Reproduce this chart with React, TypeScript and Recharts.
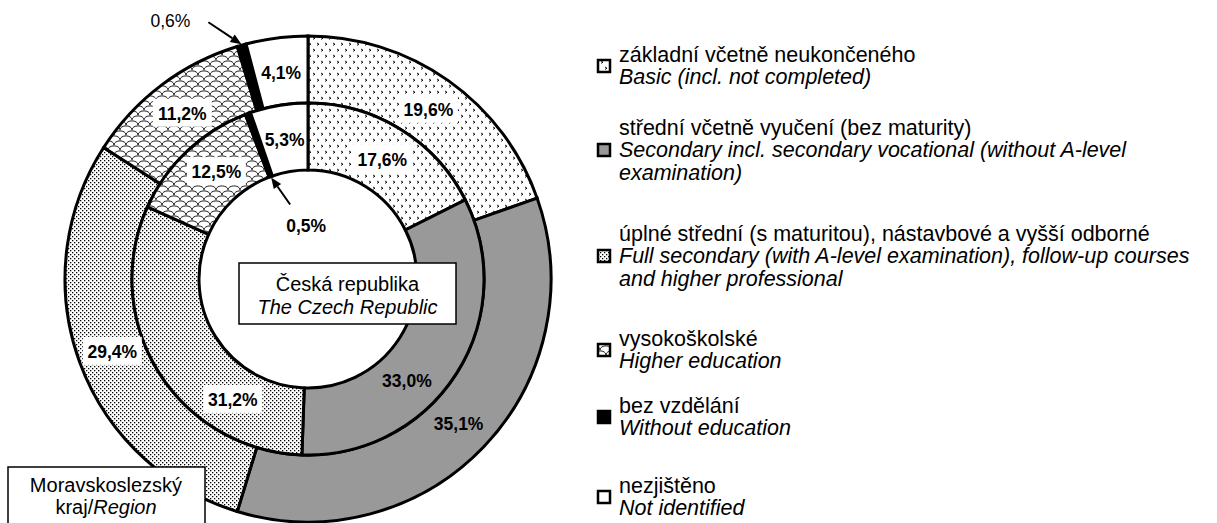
import { PieChart, Pie, Cell } from "recharts";

// categories (Czech + English)
const CATEGORIES_CZ = [
  "základní včetně neukončeného",
  "střední včetně vyučení (bez maturity)",
  "úplné střední (s maturitou), nástavbové a vyšší odborné",
  "vysokoškolské",
  "bez vzdělání",
  "nezjištěno",
];
const CATEGORIES_EN = [
  ["Basic (incl. not completed)"],
  ["Secondary incl. secondary vocational (without A-level", "examination)"],
  ["Full secondary (with A-level examination), follow-up courses", "and higher professional"],
  ["Higher education"],
  ["Without education"],
  ["Not identified"],
];

// outer ring = Moravskoslezský kraj, inner ring = Česká republika
const REGION_VALUES = [19.6, 35.1, 29.4, 11.2, 0.6, 4.1];
const CZ_VALUES = [17.6, 33.0, 31.2, 12.5, 0.5, 5.3];

const FILLS = ["url(#p-basic)", "#999999", "url(#p-dots)", "url(#p-scales)", "#000000", "#ffffff"];
const LABEL_BOX = [true, false, true, true, false, false];
// clockwise angle nudges (deg) for a few inner labels
const INNER_NUDGE = [0, 13, -26, 3, 0, 0];
// legend item centres
const LEGEND_Y = [66, 150, 256, 350, 417, 497];

const FONT = "Arial, 'Liberation Sans', sans-serif";
const RAD = Math.PI / 180;
const CX = 308;
const CY = 279;

const regionData = CATEGORIES_CZ.map((name, i) => ({ name, value: REGION_VALUES[i] }));
const czData = CATEGORIES_CZ.map((name, i) => ({ name, value: CZ_VALUES[i] }));

const fmt = (v: number) => v.toFixed(1).replace(".", ",") + "%";

function polar(cx: number, cy: number, r: number, angle: number) {
  return [cx + r * Math.cos(-angle * RAD), cy + r * Math.sin(-angle * RAD)];
}

function Arrow({ x1, y1, x2, y2 }: { x1: number; y1: number; x2: number; y2: number }) {
  const dx = x2 - x1;
  const dy = y2 - y1;
  const len = Math.sqrt(dx * dx + dy * dy);
  const ux = dx / len;
  const uy = dy / len;
  const hl = 11;
  const hw = 4.5;
  const bx = x2 - ux * hl;
  const by = y2 - uy * hl;
  const pts = `${x2},${y2} ${bx - uy * hw},${by + ux * hw} ${bx + uy * hw},${by - ux * hw}`;
  return (
    <g>
      <line x1={x1} y1={y1} x2={bx} y2={by} stroke="#000" strokeWidth={2} />
      <polygon points={pts} fill="#000" />
    </g>
  );
}

function makeLabel(ring: "outer" | "inner") {
  return (props: any) => {
    const { cx, cy, midAngle, innerRadius, outerRadius, index, value } = props;
    const text = fmt(value);
    if (index === 4) {
      if (ring === "outer") {
        const [tx, ty] = polar(cx, cy, outerRadius + 1, midAngle);
        const sx = tx - 33;
        const sy = ty - 22;
        return (
          <g>
            <Arrow x1={sx} y1={sy} x2={tx} y2={ty} />
            <text x={sx - 38} y={sy - 1} textAnchor="middle" dominantBaseline="central"
              fontFamily={FONT} fontSize={17.5} fill="#000">{text}</text>
          </g>
        );
      }
      const [tx, ty] = polar(cx, cy, innerRadius - 1, midAngle);
      const sx = tx + 19;
      const sy = ty + 27;
      return (
        <g>
          <Arrow x1={sx} y1={sy} x2={tx} y2={ty} />
          <text x={sx + 16} y={sy + 22} textAnchor="middle" dominantBaseline="central"
            fontFamily={FONT} fontSize={17.5} fontWeight="bold" fill="#000">{text}</text>
        </g>
      );
    }
    const nudge = ring === "inner" ? INNER_NUDGE[index] : 0;
    const r = (innerRadius + outerRadius) / 2 - 1;
    const [x, y] = polar(cx, cy, r, midAngle - nudge);
    const w = text.length * 9.8 + 10;
    return (
      <g>
        {LABEL_BOX[index] && <rect x={x - w / 2} y={y - 14} width={w} height={28} fill="#fff" />}
        <text x={x} y={y + 1} textAnchor="middle" dominantBaseline="central"
          fontFamily={FONT} fontSize={17.5} fontWeight="bold" fill="#000">{text}</text>
      </g>
    );
  };
}

function Patterns() {
  return (
    <svg width={0} height={0} style={{ position: "absolute" }}>
      <defs>
        <pattern id="p-basic" width={8} height={12} patternUnits="userSpaceOnUse">
          <rect width={8} height={12} fill="#fff" />
          <path d="M1 1 L3 2.2 L1 3.4 M5 7 L7 8.2 L5 9.4" stroke="#000" strokeWidth={0.9} fill="none" />
        </pattern>
        <pattern id="p-dots" width={4} height={4} patternUnits="userSpaceOnUse">
          <rect width={4} height={4} fill="#fff" />
          <rect x={0} y={0} width={1.3} height={1.3} fill="#000" />
          <rect x={2} y={2} width={1.3} height={1.3} fill="#000" />
        </pattern>
        <pattern id="p-scales" width={12} height={10} patternUnits="userSpaceOnUse">
          <rect width={12} height={10} fill="#fff" />
          <path d="M0 10 C0 4.5 12 4.5 12 10 M-6 5 C-6 -0.5 6 -0.5 6 5 M6 5 C6 -0.5 18 -0.5 18 5"
            stroke="#000" strokeWidth={0.9} fill="none" />
        </pattern>
      </defs>
    </svg>
  );
}

function LegendSvg() {
  const LH = 22.5;
  const TX = 619;
  return (
    <svg width={1217} height={523} style={{ position: "absolute", left: 0, top: 0, pointerEvents: "none" }}>
      {CATEGORIES_CZ.map((cz, i) => {
        const lines = [cz, ...CATEGORIES_EN[i]];
        const c = LEGEND_Y[i];
        const y0 = c - ((lines.length - 1) * LH) / 2;
        return (
          <g key={i}>
            <rect x={598} y={c - 6} width={12} height={12} fill={FILLS[i]} stroke="#000" strokeWidth={2.5} />
            <text x={TX} y={y0} dominantBaseline="central" fontFamily={FONT} fontSize={21.5} fill="#000">
              {lines[0]}
            </text>
            {lines.slice(1).map((t, j) => (
              <text key={j} x={TX} y={y0 + (j + 1) * LH} dominantBaseline="central"
                fontFamily={FONT} fontSize={21.5} fontStyle="italic" fill="#000">
                {t}
              </text>
            ))}
          </g>
        );
      })}
      {/* centre box */}
      <rect x={239} y={263} width={217} height={61} fill="#fff" stroke="#000" strokeWidth={1.5} />
      <text x={347.5} y={284} textAnchor="middle" dominantBaseline="central" fontFamily={FONT} fontSize={20}>
        Česká republika
      </text>
      <text x={347.5} y={307} textAnchor="middle" dominantBaseline="central" fontFamily={FONT} fontSize={20}
        fontStyle="italic">
        The Czech Republic
      </text>
      {/* region box */}
      <rect x={8} y={467} width={197} height={62} fill="#fff" stroke="#000" strokeWidth={1.5} />
      <text x={106} y={485} textAnchor="middle" dominantBaseline="central" fontFamily={FONT} fontSize={20}>
        Moravskoslezský
      </text>
      <text x={106} y={507} textAnchor="middle" dominantBaseline="central" fontFamily={FONT} fontSize={20}>
        kraj/<tspan fontStyle="italic">Region</tspan>
      </text>
    </svg>
  );
}

export default function App() {
  return (
    <div style={{ position: "absolute", left: 0, top: 0, width: 1217, height: 523, background: "#fff" }}>
      <Patterns />
      <PieChart width={1217} height={523} margin={{ top: 0, right: 0, bottom: 0, left: 0 }}>
        <Pie
          data={regionData}
          dataKey="value"
          nameKey="name"
          cx={CX}
          cy={CY}
          innerRadius={176}
          outerRadius={243}
          startAngle={90}
          endAngle={-270}
          stroke="#000"
          strokeWidth={3}
          label={makeLabel("outer")}
          labelLine={false}
          isAnimationActive={false}
        >
          {regionData.map((_, i) => (
            <Cell key={i} fill={FILLS[i]} />
          ))}
        </Pie>
        <Pie
          data={czData}
          dataKey="value"
          nameKey="name"
          cx={CX}
          cy={CY}
          innerRadius={109}
          outerRadius={176}
          startAngle={90}
          endAngle={-270}
          stroke="#000"
          strokeWidth={3}
          label={makeLabel("inner")}
          labelLine={false}
          isAnimationActive={false}
        >
          {czData.map((_, i) => (
            <Cell key={i} fill={FILLS[i]} />
          ))}
        </Pie>
      </PieChart>
      <LegendSvg />
    </div>
  );
}
